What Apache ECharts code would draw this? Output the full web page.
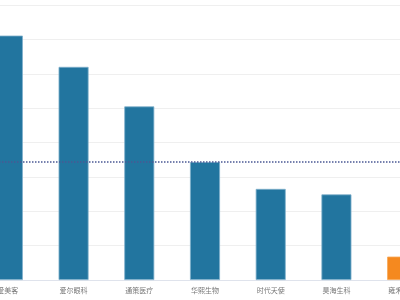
<!DOCTYPE html>
<html>
<head>
<meta charset="utf-8">
<script src="https://cdn.jsdelivr.net/npm/echarts@6/dist/echarts.min.js"></script>
<style>html,body{margin:0;padding:0;background:#fff}#c{width:400px;height:300px}</style>
</head>
<body>
<div id="c"></div>
<script>
var categories = ['爱美客', '爱尔眼科', '通策医疗', '华熙生物', '时代天使', '昊海生科', '雍禾医疗'];
var values = [71.1, 62.0, 50.5, 34.3, 26.5, 24.9, 6.8];
var highlightIndex = 6;
var referenceValue = 34.5;

var chart = echarts.init(document.getElementById('c'));
chart.setOption({
  animation: false,
  grid: { left: -25, right: -35, top: 5, bottom: 20, outerBoundsMode: 'none', containLabel: false },
  xAxis: {
    type: 'category',
    data: categories,
    axisLine: { lineStyle: { color: '#dfe3ec' } },
    axisTick: { lineStyle: { color: '#dfe3ec' }, length: 5 },
    axisLabel: { interval: 0, fontSize: 7, color: '#777', margin: 7, fontFamily: 'Noto Sans CJK SC' }
  },
  yAxis: {
    type: 'value',
    min: 0, max: 80, interval: 10,
    axisLabel: { show: false },
    axisLine: { show: false },
    axisTick: { show: false },
    splitLine: { lineStyle: { color: '#efefef', width: 1 } }
  },
  series: [{
    type: 'bar',
    barWidth: 30,
    data: values.map(function (v, i) {
      return {
        value: v,
        itemStyle: i === highlightIndex
          ? { color: '#f5891f', borderColor: '#f8a857', borderWidth: 0.8 }
          : { color: '#22759f', borderColor: '#7fb0cc', borderWidth: 0.8 }
      };
    }),
    markLine: {
      symbol: 'none',
      silent: true,
      label: { show: false },
      lineStyle: { type: 'dotted', color: '#4a5894', width: 1.5 },
      data: [{ yAxis: referenceValue }]
    }
  }]
});
</script>
</body>
</html>
